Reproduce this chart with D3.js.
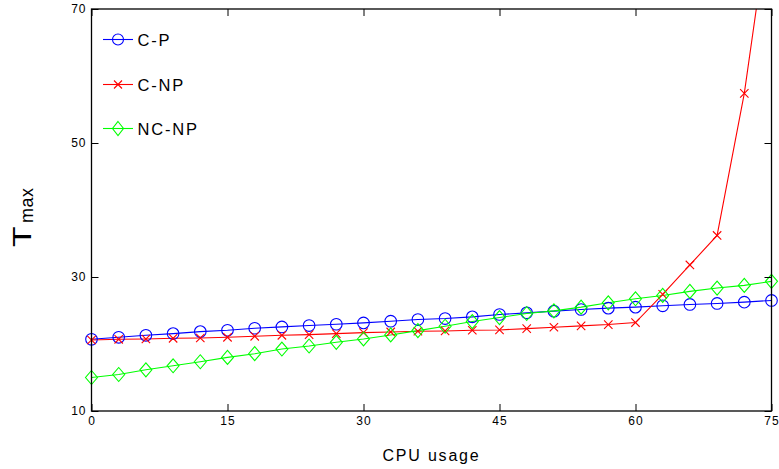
<!DOCTYPE html>
<html>
<head>
<meta charset="utf-8">
<script src="https://cdn.jsdelivr.net/npm/d3@7"></script>
<style>
  html, body { margin: 0; padding: 0; background: #fff; }
  svg { display: block; }
  text { font-family: "Liberation Sans", Arial, Helvetica, sans-serif; fill: #000; }
</style>
</head>
<body>
<svg id="chart" width="779" height="469"></svg>
<script>
// CPU usage sample points (x axis)
const cpuUsage = [0, 3, 6, 9, 12, 15, 18, 21, 24, 27, 30, 33, 36, 39, 42, 45, 48, 51, 54, 57, 60, 63, 66, 69, 72, 75];

// Tmax for each scheduling variant
const cpValues   = [20.7, 21.0, 21.3, 21.55, 21.85, 22.05, 22.35, 22.55, 22.75, 22.95, 23.15, 23.4, 23.65, 23.8, 24.05, 24.4, 24.65, 24.9, 25.15, 25.35, 25.5, 25.7, 25.9, 26.05, 26.25, 26.5];
const cnpValues  = [20.6, 20.7, 20.75, 20.85, 20.9, 21.0, 21.15, 21.3, 21.4, 21.55, 21.7, 21.8, 21.9, 21.95, 22.05, 22.1, 22.3, 22.5, 22.7, 22.9, 23.2, 27.4, 31.8, 36.2, 57.4, 86];
const ncnpValues = [15.0, 15.45, 16.15, 16.75, 17.35, 18.0, 18.55, 19.25, 19.7, 20.25, 20.75, 21.35, 22.0, 22.65, 23.35, 23.95, 24.55, 24.95, 25.5, 26.15, 26.75, 27.25, 27.85, 28.35, 28.75, 29.35];

const seriesNames = ["C-P", "C-NP", "NC-NP"];
const xTicks = [0, 15, 30, 45, 60, 75];
const yTicks = [10, 30, 50, 70];

const series = [
  { name: seriesNames[0], values: cpValues,   color: "#0000ff", marker: "circle" },
  { name: seriesNames[1], values: cnpValues,  color: "#ff0000", marker: "cross" },
  { name: seriesNames[2], values: ncnpValues, color: "#00ff00", marker: "diamond" }
];

const svg = d3.select("#chart");
const plot = { left: 91.5, right: 771.5, top: 9, bottom: 411 };

const x = d3.scaleLinear().domain([0, 75]).range([plot.left, plot.right]);
const y = d3.scaleLinear().domain([10, 70]).range([plot.bottom, plot.top]);

svg.append("defs").append("clipPath").attr("id", "plot-clip")
  .append("rect")
  .attr("x", plot.left).attr("y", plot.top)
  .attr("width", plot.right - plot.left).attr("height", plot.bottom - plot.top);

// Marker drawing helpers
function drawMarker(g, type, cx, cy, color, size) {
  if (type === "circle") {
    g.append("circle").attr("cx", cx).attr("cy", cy).attr("r", size.r)
      .attr("fill", "none").attr("stroke", color).attr("stroke-width", 1.1);
  } else if (type === "diamond") {
    const w = size.dw, h = size.dh;
    g.append("path")
      .attr("d", `M${cx},${cy - h}L${cx + w},${cy}L${cx},${cy + h}L${cx - w},${cy}Z`)
      .attr("fill", "none").attr("stroke", color).attr("stroke-width", 1.1);
  } else {
    const s = size.c;
    g.append("path")
      .attr("d", `M${cx - s},${cy - s}L${cx + s},${cy + s}M${cx - s},${cy + s}L${cx + s},${cy - s}`)
      .attr("fill", "none").attr("stroke", color).attr("stroke-width", 1.1);
  }
}

const markerSize = { r: 5.8, dw: 6, dh: 7, c: 4.2 };

const line = d3.line().x((d, i) => x(cpuUsage[i])).y(d => y(d));

// Series lines (clipped to the axes box) and their markers
series.forEach(s => {
  svg.append("path")
    .datum(s.values)
    .attr("clip-path", "url(#plot-clip)")
    .attr("d", line)
    .attr("fill", "none")
    .attr("stroke", s.color)
    .attr("stroke-width", 1.1);
});
series.forEach(s => {
  const g = svg.append("g");
  s.values.forEach((v, i) => {
    if (v <= 70) drawMarker(g, s.marker, x(cpuUsage[i]), y(v), s.color, markerSize);
  });
});

// Axes: ticks point inward on all four sides
function styleAxis(g) {
  g.select(".domain").remove();
  g.selectAll(".tick line").attr("stroke", "#000").attr("stroke-width", 1);
  g.selectAll("text").style("font-size", "12px").style("letter-spacing", "1px")
    .style("font-family", "'Liberation Sans', Arial, sans-serif").attr("fill", "#000");
}

svg.append("g").attr("transform", `translate(0,${plot.bottom})`)
  .call(d3.axisBottom(x).tickValues(xTicks).tickSizeInner(-7).tickSizeOuter(0).tickPadding(5))
  .call(styleAxis);
svg.append("g").attr("transform", `translate(${plot.left},0)`)
  .call(d3.axisLeft(y).tickValues(yTicks).tickSizeInner(-7).tickSizeOuter(0).tickPadding(5))
  .call(styleAxis);
svg.append("g").attr("transform", `translate(0,${plot.top})`)
  .call(d3.axisTop(x).tickValues(xTicks).tickSizeInner(-7).tickSizeOuter(0).tickFormat(""))
  .call(styleAxis);
svg.append("g").attr("transform", `translate(${plot.right},0)`)
  .call(d3.axisRight(y).tickValues(yTicks).tickSizeInner(-7).tickSizeOuter(0).tickFormat(""))
  .call(styleAxis);

// Axes box
svg.append("rect")
  .attr("x", plot.left).attr("y", plot.top)
  .attr("width", plot.right - plot.left).attr("height", plot.bottom - plot.top)
  .attr("fill", "none").attr("stroke", "#000").attr("stroke-width", 1.3);

// Axis titles
svg.append("text")
  .attr("x", (plot.left + plot.right) / 2).attr("y", 461)
  .attr("text-anchor", "middle")
  .style("font-size", "16px").style("letter-spacing", "1.8px")
  .text("CPU usage");

const yTitle = svg.append("g").attr("transform", "translate(31,247) rotate(-90)");
yTitle.append("text").attr("x", 0).attr("y", 0)
  .attr("transform", "scale(1.3,1)")
  .style("font-size", "26px")
  .text("T");
yTitle.append("text").attr("x", 24).attr("y", 2)
  .style("font-size", "18px").style("letter-spacing", "0.5px")
  .text("max");

// Legend (no frame)
const legendY = [39.5, 84.5, 128.5];
series.forEach((s, i) => {
  const g = svg.append("g");
  g.append("line")
    .attr("x1", 103).attr("x2", 133).attr("y1", legendY[i]).attr("y2", legendY[i])
    .attr("stroke", s.color).attr("stroke-width", 1.1);
  drawMarker(g, s.marker, 118, legendY[i], s.color, { r: 5.5, dw: 5.5, dh: 7, c: 4 });
  g.append("text")
    .attr("x", 137.5).attr("y", legendY[i] + 6)
    .style("font-size", "16.5px").style("letter-spacing", "1.8px")
    .text(s.name);
});
</script>
</body>
</html>
